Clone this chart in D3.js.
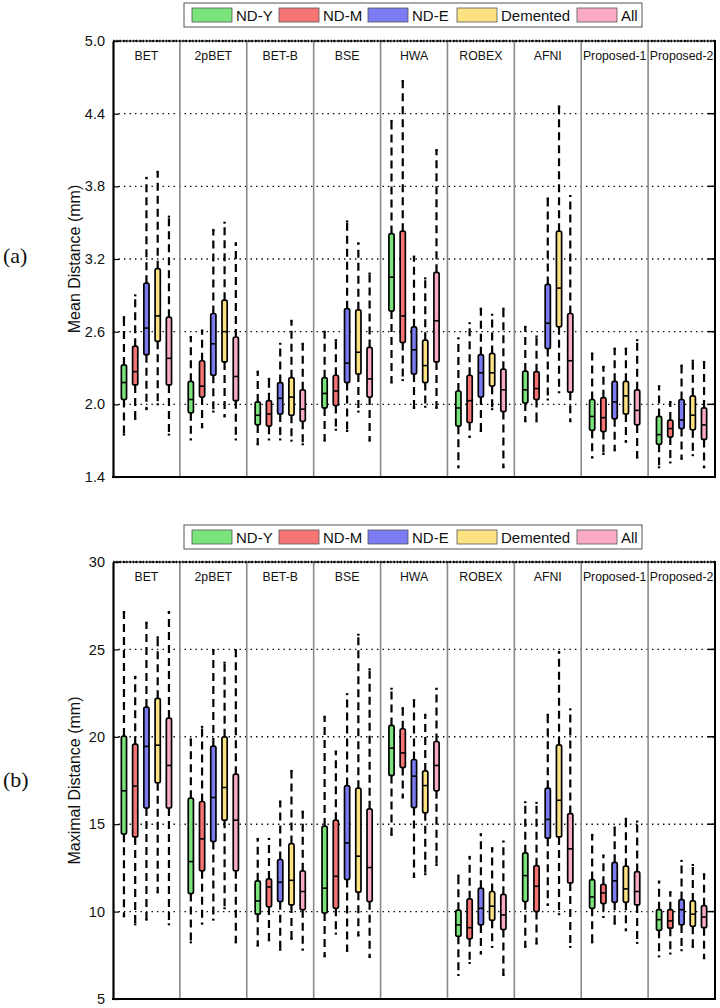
<!DOCTYPE html>
<html>
<head>
<meta charset="utf-8">
<script src="https://cdn.jsdelivr.net/npm/d3@7"></script>
<style>
  body { margin: 0; background: #fff; }
  svg { display: block; font-family: "Liberation Sans", Arial, sans-serif; }
</style>
</head>
<body>
<div id="chart"></div>
<script>
const methods = ["BET", "2pBET", "BET-B", "BSE", "HWA", "ROBEX", "AFNI", "Proposed-1", "Proposed-2"];
const groups = ["ND-Y", "ND-M", "ND-E", "Demented", "All"];

// each entry: [lower whisker, q1, median, q3, upper whisker], one per method
const meanNDY = [
  [1.75, 2.04, 2.18, 2.325, 2.72], [1.71, 1.93, 2.04, 2.19, 2.556], [1.67, 1.83, 1.91, 2.02, 2.27],
  [1.70, 1.97, 2.09, 2.22, 2.60], [2.18, 2.77, 3.05, 3.41, 4.34], [1.48, 1.82, 1.97, 2.11, 2.545],
  [1.86, 2.01, 2.12, 2.275, 2.64], [1.56, 1.785, 1.90, 2.04, 2.42], [1.48, 1.67, 1.75, 1.90, 2.15]
];
const meanNDM = [
  [1.88, 2.16, 2.27, 2.48, 2.90], [1.81, 2.06, 2.15, 2.36, 2.61], [1.71, 1.82, 1.92, 2.03, 2.21],
  [1.79, 1.99, 2.11, 2.24, 2.53], [2.20, 2.51, 2.73, 3.43, 4.67], [1.73, 1.85, 2.03, 2.24, 2.67],
  [1.86, 2.04, 2.13, 2.27, 2.56], [1.59, 1.775, 1.89, 2.055, 2.31], [1.52, 1.73, 1.80, 1.87, 2.02]
];
const meanNDE = [
  [1.96, 2.41, 2.63, 3.00, 3.87], [1.94, 2.24, 2.50, 2.75, 3.44], [1.71, 1.92, 2.05, 2.18, 2.50],
  [1.78, 2.18, 2.34, 2.79, 3.51], [1.97, 2.25, 2.45, 2.64, 3.22], [1.78, 2.06, 2.26, 2.41, 2.79],
  [2.04, 2.46, 2.67, 2.99, 3.70], [1.62, 1.88, 2.02, 2.19, 2.46], [1.55, 1.80, 1.87, 2.04, 2.32]
];
const meanDem = [
  [2.00, 2.52, 2.73, 3.12, 3.92], [1.90, 2.35, 2.60, 2.86, 3.50], [1.70, 1.91, 2.06, 2.22, 2.69],
  [1.94, 2.25, 2.43, 2.78, 3.33], [1.98, 2.18, 2.32, 2.53, 3.04], [1.96, 2.15, 2.26, 2.42, 2.74],
  [2.10, 2.64, 2.96, 3.43, 4.46], [1.69, 1.92, 2.07, 2.19, 2.46], [1.58, 1.79, 1.91, 2.07, 2.36]
];
const meanAll = [
  [1.75, 2.16, 2.38, 2.72, 3.55], [1.71, 2.03, 2.23, 2.556, 3.33], [1.67, 1.86, 1.96, 2.12, 2.50],
  [1.70, 2.06, 2.21, 2.47, 3.08], [1.97, 2.35, 2.69, 3.09, 4.10], [1.48, 1.94, 2.12, 2.29, 2.79],
  [1.86, 2.10, 2.36, 2.75, 3.72], [1.56, 1.83, 1.95, 2.12, 2.53], [1.48, 1.71, 1.83, 1.97, 2.35]
];

const maxNDY = [
  [9.73, 14.43, 16.91, 20.04, 27.14], [8.24, 11.03, 12.86, 16.49, 19.85], [8.05, 9.85, 10.61, 11.76, 14.16],
  [7.44, 9.92, 11.34, 14.89, 21.15], [14.39, 17.79, 19.35, 20.65, 22.75], [6.37, 8.59, 9.24, 10.08, 12.06],
  [7.98, 10.57, 12.06, 13.36, 16.26], [8.24, 10.19, 10.84, 11.83, 14.39], [7.44, 8.93, 9.54, 10.11, 11.72]
];
const maxNDM = [
  [9.27, 14.27, 17.18, 19.58, 23.43], [9.31, 12.33, 14.16, 16.30, 20.57], [8.36, 10.27, 11.41, 11.87, 14.16],
  [8.74, 10.19, 12.02, 15.23, 19.16], [16.53, 18.24, 19.08, 20.46, 21.64], [7.06, 8.44, 9.08, 10.73, 13.13],
  [8.17, 10.00, 11.45, 12.63, 16.22], [9.69, 10.46, 11.07, 11.56, 13.21], [7.60, 9.05, 9.47, 10.11, 11.11]
];
const maxNDE = [
  [9.54, 15.92, 19.45, 21.70, 26.53], [9.54, 14.01, 16.53, 19.47, 24.96], [7.82, 10.57, 11.68, 12.98, 16.30],
  [7.75, 11.83, 13.93, 17.21, 22.44], [11.98, 15.95, 17.75, 18.70, 22.10], [7.60, 9.24, 10.19, 11.34, 14.43],
  [10.38, 14.20, 15.27, 17.06, 21.26], [9.31, 10.53, 11.76, 12.82, 14.81], [7.79, 9.24, 10.11, 10.69, 12.90]
];
const maxDem = [
  [11.10, 17.37, 19.52, 22.20, 25.69], [10.19, 15.23, 17.10, 20.00, 24.24], [8.44, 10.38, 11.79, 13.89, 18.05],
  [8.63, 11.11, 13.17, 17.06, 25.84], [12.14, 15.65, 17.21, 18.05, 21.26], [7.98, 9.50, 10.31, 11.15, 13.63],
  [9.85, 14.27, 16.37, 19.54, 24.85], [8.93, 10.53, 11.30, 12.60, 15.31], [7.98, 9.16, 9.85, 10.61, 12.67]
];
const maxAll = [
  [9.27, 15.92, 18.36, 21.07, 27.14], [8.24, 12.33, 15.23, 17.86, 24.96], [7.82, 10.11, 11.15, 12.33, 15.72],
  [7.40, 10.57, 12.52, 15.88, 23.86], [12.67, 16.91, 18.36, 19.73, 22.75], [6.37, 8.97, 9.81, 10.99, 14.01],
  [7.98, 11.64, 13.59, 15.61, 21.57], [8.21, 10.38, 11.15, 12.29, 15.15], [7.33, 9.08, 9.69, 10.34, 12.14]
];

const meanTicks = [1.4, 2.0, 2.6, 3.2, 3.8, 4.4, 5.0];
const maxTicks = [5, 10, 15, 20, 25, 30];

const colors = ["#7be37b", "#f77474", "#7b7bf2", "#fde282", "#f9abc6"];

const width = 720, height = 1008;
const left = 113, right = 715;
const font = "'Liberation Sans', Arial, sans-serif";

const svg = d3.select("#chart")
  .append("svg")
    .attr("width", width)
    .attr("height", height);

const drawLegend = (top) => {
  const lg = svg.append("g").attr("transform", `translate(184, ${top})`);
  lg.append("rect")
    .attr("width", 458).attr("height", 24)
    .attr("fill", "#fff").attr("stroke", "#555").attr("stroke-width", 1);
  const itemX = [8, 95, 184, 273, 393];
  groups.forEach((g, i) => {
    lg.append("rect")
      .attr("x", itemX[i]).attr("y", 5)
      .attr("width", 40).attr("height", 14)
      .attr("fill", colors[i]).attr("stroke", "#555").attr("stroke-width", 0.8);
    lg.append("text")
      .attr("x", itemX[i] + 44).attr("y", 18)
      .attr("font-family", font)
      .attr("font-size", "15px")
      .attr("fill", "#111")
      .text(g);
  });
};

const drawPanel = (cfg) => {
  const y = d3.scaleLinear().domain(cfg.domain).range([cfg.bottom, cfg.top]);
  const x = d3.scaleBand().domain(methods).range([left, right]);
  const sx = d3.scalePoint().domain(groups).range([-22.5, 22.5]);
  const g = svg.append("g");

  // dotted grid
  g.append("g")
    .selectAll("line")
    .data(cfg.ticks.slice(1))
    .join("line")
      .attr("x1", left).attr("x2", right)
      .attr("y1", d => y(d)).attr("y2", d => y(d))
      .attr("stroke", "#000").attr("stroke-width", 1.4)
      .attr("stroke-dasharray", "1.4,4.1");

  // method separators
  g.append("g")
    .selectAll("line")
    .data(methods.slice(1))
    .join("line")
      .attr("x1", d => x(d)).attr("x2", d => x(d))
      .attr("y1", cfg.top).attr("y2", cfg.bottom)
      .attr("stroke", "#8a8a8a").attr("stroke-width", 1.6);

  // method names
  g.append("g")
    .selectAll("text")
    .data(methods)
    .join("text")
      .attr("x", d => x(d) + x.bandwidth() / 2)
      .attr("y", cfg.top + 19)
      .attr("text-anchor", "middle")
      .attr("font-family", font)
      .attr("font-size", "12.3px")
      .attr("fill", "#111")
      .text(d => d);

  // boxes
  cfg.series.forEach((data, si) => {
    const boxes = g.append("g")
      .selectAll("g")
      .data(data.map((v, mi) => ({ method: methods[mi], v })))
      .join("g")
        .attr("transform", d => `translate(${x(d.method) + x.bandwidth() / 2 + sx(groups[si])}, 0)`);

    boxes.append("line")
      .attr("y1", d => y(d.v[3])).attr("y2", d => y(d.v[4]))
      .attr("stroke", "#000").attr("stroke-width", 2.2)
      .attr("stroke-dasharray", "8,5");
    boxes.append("line")
      .attr("y1", d => y(d.v[1])).attr("y2", d => y(d.v[0]))
      .attr("stroke", "#000").attr("stroke-width", 2.2)
      .attr("stroke-dasharray", "8,5");
    boxes.append("line")
      .attr("x1", -1.2).attr("x2", 1.2)
      .attr("y1", d => y(d.v[4])).attr("y2", d => y(d.v[4]))
      .attr("stroke", "#000").attr("stroke-width", 2);
    boxes.append("line")
      .attr("x1", -1.2).attr("x2", 1.2)
      .attr("y1", d => y(d.v[0])).attr("y2", d => y(d.v[0]))
      .attr("stroke", "#000").attr("stroke-width", 2);

    boxes.append("rect")
      .attr("x", -2.6).attr("width", 5.2)
      .attr("y", d => y(d.v[3]))
      .attr("height", d => y(d.v[1]) - y(d.v[3]))
      .attr("rx", 1.8)
      .attr("fill", colors[si])
      .attr("stroke", "#000").attr("stroke-width", 1.7);
    boxes.append("line")
      .attr("x1", -2.6).attr("x2", 2.6)
      .attr("y1", d => y(d.v[2])).attr("y2", d => y(d.v[2]))
      .attr("stroke", "#000").attr("stroke-width", 1.6);
  });

  // frame
  g.append("line")
    .attr("x1", left).attr("x2", right).attr("y1", cfg.top).attr("y2", cfg.top)
    .attr("stroke", "#000").attr("stroke-width", 1);
  g.append("line")
    .attr("x1", left).attr("x2", right).attr("y1", cfg.top).attr("y2", cfg.top)
    .attr("stroke", "#000").attr("stroke-width", 2.4).attr("stroke-dasharray", "1.3,2");
  g.append("line")
    .attr("x1", right).attr("x2", right).attr("y1", cfg.top - 1).attr("y2", cfg.bottom + 1)
    .attr("stroke", "#000").attr("stroke-width", 2);

  // axis
  const axis = d3.axisLeft(y)
    .tickValues(cfg.ticks)
    .tickFormat(cfg.format)
    .tickSizeInner(-6)
    .tickSizeOuter(0)
    .tickPadding(8);
  const ax = g.append("g")
    .attr("transform", `translate(${left}, 0)`)
    .call(axis);
  ax.select(".domain").attr("stroke", "#000").attr("stroke-width", 2.2);
  ax.selectAll(".tick line").attr("stroke", "#000").attr("stroke-width", 1.2);
  ax.selectAll(".tick text")
    .attr("font-size", "14.5px")
    .attr("font-family", font)
    .attr("fill", "#111");

  // right ticks
  g.append("g")
    .selectAll("line")
    .data(cfg.ticks.slice(1, -1))
    .join("line")
      .attr("x1", right - 7).attr("x2", right)
      .attr("y1", d => y(d)).attr("y2", d => y(d))
      .attr("stroke", "#000").attr("stroke-width", 1.5);

  // bottom edge
  g.append("line")
    .attr("x1", left - 1).attr("x2", right + 1).attr("y1", cfg.bottom).attr("y2", cfg.bottom)
    .attr("stroke", "#000").attr("stroke-width", 2.2);

  // y label
  g.append("text")
    .attr("transform", `translate(80, ${(cfg.top + cfg.bottom) / 2}) rotate(-90)`)
    .attr("text-anchor", "middle")
    .attr("font-family", font)
    .attr("font-size", "16px")
    .attr("fill", "#111")
    .text(cfg.label);

  // panel letter
  g.append("text")
    .attr("x", 3)
    .attr("y", cfg.letterY)
    .attr("font-family", "'Liberation Serif', 'Times New Roman', serif")
    .attr("font-size", "22px")
    .attr("fill", "#111")
    .text(cfg.letter);
};

drawLegend(3);
drawPanel({
  top: 41, bottom: 477, domain: [1.4, 5.0], ticks: meanTicks,
  format: d3.format(".1f"),
  series: [meanNDY, meanNDM, meanNDE, meanDem, meanAll],
  label: "Mean Distance (mm)", letter: "(a)", letterY: 263
});

drawLegend(525);
drawPanel({
  top: 562, bottom: 999, domain: [5, 30], ticks: maxTicks,
  format: d3.format("d"),
  series: [maxNDY, maxNDM, maxNDE, maxDem, maxAll],
  label: "Maximal Distance (mm)", letter: "(b)", letterY: 787
});
</script>
</body>
</html>
